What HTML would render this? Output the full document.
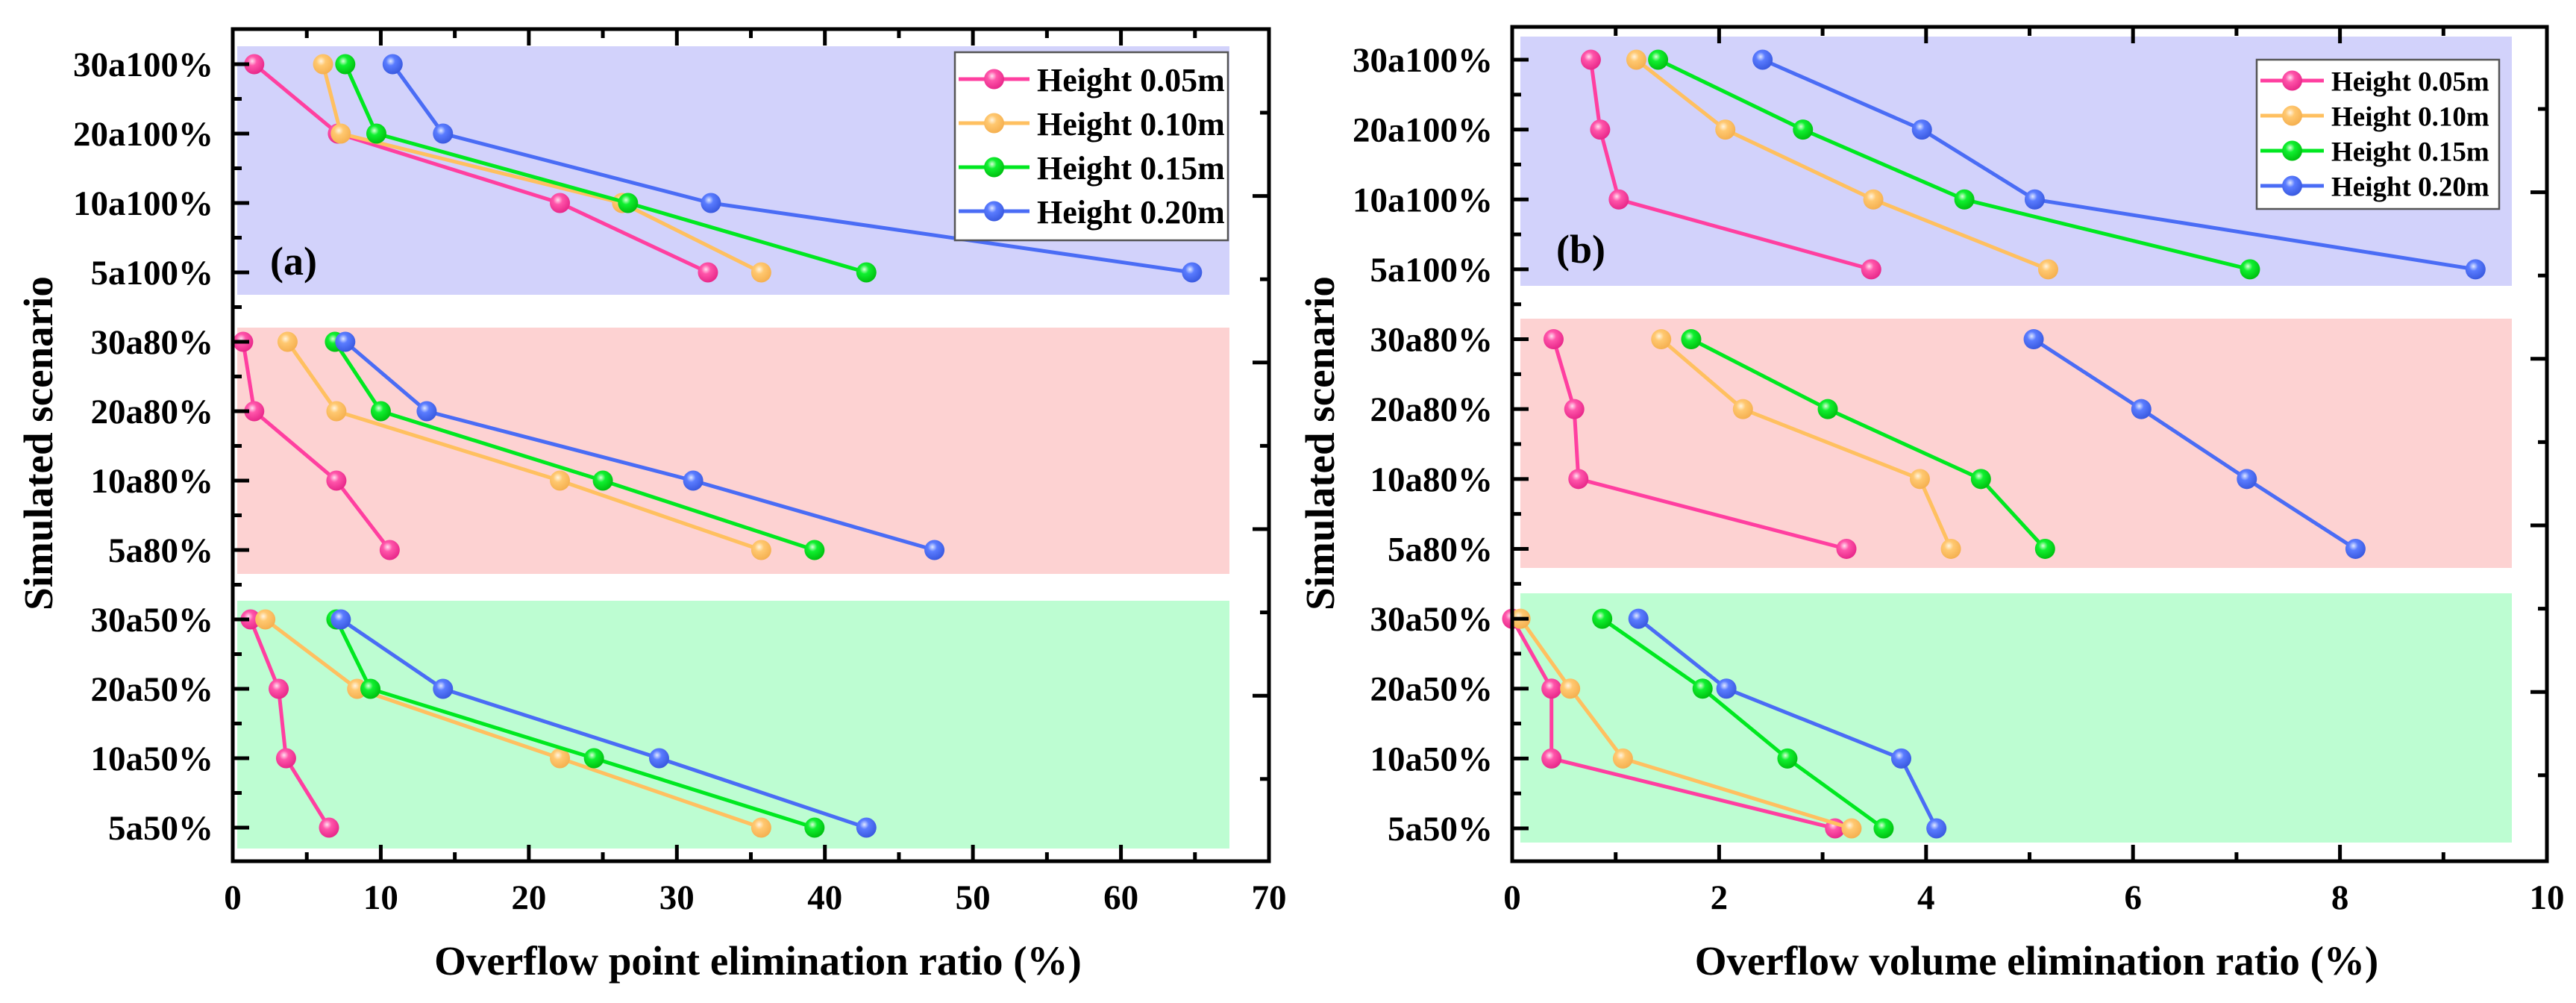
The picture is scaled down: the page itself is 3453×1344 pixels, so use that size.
<!DOCTYPE html>
<html><head><meta charset="utf-8"><style>
html,body{margin:0;padding:0;background:#fff;}
svg{display:block;}
text{font-family:"Liberation Serif",serif;font-weight:bold;fill:#000;}
</style></head><body>
<svg id="chart" xmlns="http://www.w3.org/2000/svg" width="3453" height="1344" viewBox="0 0 3453 1344">
<defs>
<radialGradient id="g-pink" cx="0.4" cy="0.35" r="0.65"><stop offset="0" stop-color="#ffe0f0"/><stop offset="0.35" stop-color="#ff55aa"/><stop offset="1" stop-color="#e8288a"/></radialGradient>
<radialGradient id="g-orange" cx="0.4" cy="0.35" r="0.65"><stop offset="0" stop-color="#fff4e0"/><stop offset="0.35" stop-color="#ffc870"/><stop offset="1" stop-color="#f5b050"/></radialGradient>
<radialGradient id="g-green" cx="0.4" cy="0.35" r="0.65"><stop offset="0" stop-color="#d8ffd8"/><stop offset="0.35" stop-color="#10f030"/><stop offset="1" stop-color="#00c010"/></radialGradient>
<radialGradient id="g-blue" cx="0.4" cy="0.35" r="0.65"><stop offset="0" stop-color="#e0e8ff"/><stop offset="0.35" stop-color="#5a7cff"/><stop offset="1" stop-color="#3a5ae0"/></radialGradient>
</defs>
</svg>
<script>
const categories = ["30a100%","20a100%","10a100%","5a100%","30a80%","20a80%","10a80%","5a80%","30a50%","20a50%","10a50%","5a50%"];
const seriesNames = ["Height 0.05m","Height 0.10m","Height 0.15m","Height 0.20m"];
const pointRatioH005 = [1.45,7.1,22.1,32.1, 0.7,1.45,7.0,10.6, 1.2,3.1,3.6,6.5];
const pointRatioH010 = [6.1,7.3,26.3,35.7, 3.7,7.0,22.1,35.7, 2.2,8.4,22.1,35.7];
const pointRatioH015 = [7.6,9.7,26.7,42.8, 6.9,10.0,25.0,39.3, 7.0,9.3,24.4,39.3];
const pointRatioH020 = [10.8,14.2,32.3,64.8, 7.6,13.1,31.1,47.4, 7.3,14.2,28.8,42.8];
const volumeRatioH005 = [0.76,0.85,1.03,3.47, 0.40,0.60,0.64,3.23, 0.0,0.38,0.38,3.12];
const volumeRatioH010 = [1.20,2.06,3.49,5.18, 1.44,2.23,3.94,4.24, 0.08,0.56,1.07,3.28];
const volumeRatioH015 = [1.41,2.81,4.37,7.13, 1.73,3.05,4.53,5.15, 0.87,1.84,2.66,3.59];
const volumeRatioH020 = [2.42,3.96,5.05,9.31, 5.04,6.08,7.10,8.15, 1.22,2.07,3.76,4.10];
const xTicksA = [0,10,20,30,40,50,60,70];
const xTicksB = [0,2,4,6,8,10];

const NS="http://www.w3.org/2000/svg";
const svg=document.getElementById('chart');
const colors=["#ff3fa0","#ffc060","#00e820","#4a6cf5"];
const grads=["url(#g-pink)","url(#g-orange)","url(#g-green)","url(#g-blue)"];
const keys=["h005","h010","h015","h020"];
function mk(tag,attrs,parent){const e=document.createElementNS(NS,tag);for(const k in attrs)e.setAttribute(k,attrs[k]);(parent||svg).appendChild(e);return e;}

function panel(P){
  const g=mk('g',{});
  
  
  const sx=v=>P.L+(v-P.xmin)/(P.xmax-P.xmin)*(P.R-P.L);
  const sy=i=>P.y0+i*(P.y1-P.y0)/(categories.length-1);
  const bandCols=["#d2d2fb","#fdd2d2","#bdfdd2"], bandNames=["band-100pct","band-80pct","band-50pct"];
  P.bands.forEach((b,i)=>{const r=mk('rect',{x:P.bx0,y:b[0],width:P.bx1-P.bx0,height:b[1]-b[0],fill:bandCols[i]},g);
    
    });
  P.series.forEach((vals,s)=>{
    const sg=mk('g',{},g);
    
    
    for(let grp=0;grp<3;grp++){
      const pts=[];for(let k=0;k<4;k++){const i=grp*4+k;pts.push(sx(vals[i]).toFixed(1)+','+sy(i).toFixed(1));}
      const pl=mk('polyline',{points:pts.join(' '),fill:'none',stroke:colors[s],'stroke-width':5,'stroke-linejoin':'round'},sg);
      
      
    }
    vals.forEach((v,i)=>{const c=mk('circle',{cx:sx(v),cy:sy(i),r:13.5,fill:grads[s]},sg);
      
      });
  });
  const box=mk('rect',{x:P.L,y:P.T,width:P.R-P.L,height:P.B-P.T,fill:'none',stroke:'#000','stroke-width':5},g);
  
  
  categories.forEach((c,i)=>{const y=sy(i);
    mk('line',{x1:P.L,x2:P.L+22,y1:y,y2:y,stroke:'#000','stroke-width':5},g);
    if(i<categories.length-1){const ym=(y+sy(i+1))/2;mk('line',{x1:P.L,x2:P.L+12,y1:ym,y2:ym,stroke:'#000','stroke-width':5},g);}
    const t=mk('text',{x:P.L-26,y:y+16,'text-anchor':'end','font-size':47},g);t.textContent=c;
    
    
  });
  for(let k=0;k<9;k++){const y=P.rt0+k*111.6;const len=(k%2===0)?12:22;
    mk('line',{x1:P.R,x2:P.R-len,y1:y,y2:y,stroke:'#000','stroke-width':5},g);}
  const ticks=P.xticks;
  ticks.forEach((v,idx)=>{const x=sx(v);
    mk('line',{x1:x,x2:x,y1:P.B,y2:P.B-22,stroke:'#000','stroke-width':5},g);
    mk('line',{x1:x,x2:x,y1:P.T,y2:P.T+22,stroke:'#000','stroke-width':5},g);
    if(idx<ticks.length-1){const xm=sx((v+ticks[idx+1])/2);
      mk('line',{x1:xm,x2:xm,y1:P.B,y2:P.B-12,stroke:'#000','stroke-width':5},g);
      mk('line',{x1:xm,x2:xm,y1:P.T,y2:P.T+12,stroke:'#000','stroke-width':5},g);}
    const t=mk('text',{x:x,y:P.B+64,'text-anchor':'middle','font-size':47},g);t.textContent=v;
    
    
  });
  const xt=mk('text',{x:P.xtx,y:1306,'text-anchor':'middle','font-size':55},g);xt.textContent=P.xtitle;
  
  
  const yt=mk('text',{x:0,y:0,'text-anchor':'middle','font-size':55,transform:'translate('+P.ytx+',594) rotate(-90)'},g);yt.textContent="Simulated scenario";
  
  
  const pl=mk('text',{x:P.lab[0],y:P.lab[1],'font-size':54},g);pl.textContent=P.label;
  
  
  const lg=mk('g',{},g);
  
  
  const Lg=P.legend;
  mk('rect',{x:Lg.x,y:Lg.y,width:Lg.w,height:Lg.h,fill:'#fff',stroke:'#555','stroke-width':2.5},lg);
  seriesNames.forEach((n,s)=>{const y=Lg.ey0+s*Lg.dy;
    const e=mk('g',{},lg);
    
    
    mk('line',{x1:Lg.x+5,x2:Lg.x+Lg.lw,y1:y,y2:y,stroke:colors[s],'stroke-width':5},e);
    mk('circle',{cx:Lg.x+5+(Lg.lw-5)/2,cy:y,r:13.5,fill:grads[s]},e);
    const t=mk('text',{x:Lg.x+Lg.lw+10,y:y+Lg.fs*0.36,'font-size':Lg.fs},e);t.textContent=n;});
}

panel({id:'panel-a',L:312,R:1701,T:39,B:1154,xmin:0,xmax:70,y0:86,y1:1109,
  bx0:318,bx1:1648,bands:[[62,395],[439,769],[805,1137]],rt0:151,xticks:xTicksA,
  series:[pointRatioH005,pointRatioH010,pointRatioH015,pointRatioH020],
  xtitle:"Overflow point elimination ratio (%)",xtx:1016,ytx:70,label:"(a)",lab:[362,368],
  legend:{x:1280,y:70,w:366,h:252,ey0:106,dy:59,lw:100,fs:44}});
panel({id:'panel-b',L:2027,R:3414,T:36,B:1154,xmin:0,xmax:10,y0:80,y1:1110,
  bx0:2038,bx1:3367,bands:[[49,383],[427,761],[795,1129]],rt0:146,xticks:xTicksB,
  series:[volumeRatioH005,volumeRatioH010,volumeRatioH015,volumeRatioH020],
  xtitle:"Overflow volume elimination ratio (%)",xtx:2730,ytx:1788,label:"(b)",lab:[2086,352],
  legend:{x:3025,y:80,w:325,h:200,ey0:108,dy:47,lw:90,fs:37}});
</script>
</body></html>
